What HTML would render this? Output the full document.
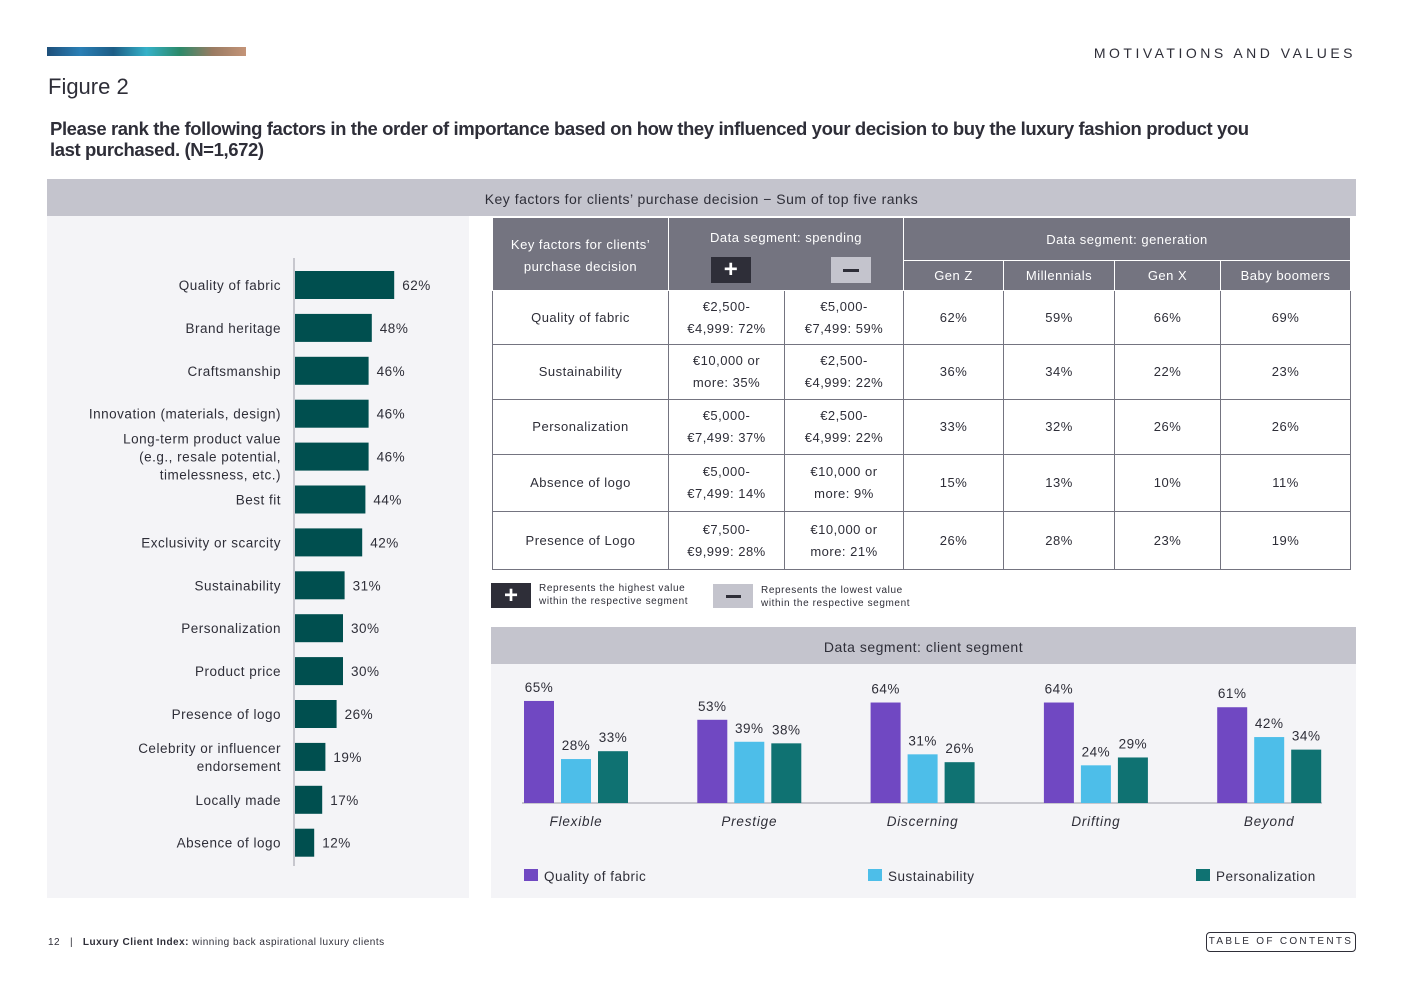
<!DOCTYPE html>
<html><head><meta charset="utf-8">
<style>
*{margin:0;padding:0;box-sizing:border-box}
body{width:1403px;height:992px;background:#fff;position:relative;font-family:"Liberation Sans",sans-serif;color:#2e2e38;overflow:hidden}
.a{position:absolute}
.t{letter-spacing:.5px}
table{border-collapse:collapse;position:absolute;left:492px;top:217px;width:859px;font-size:13px;letter-spacing:.5px;table-layout:fixed}
th{background:#747480;color:#fff;font-weight:normal;border:1px solid #fff;text-align:center}
td{border:1px solid #747480;text-align:center;line-height:22px;color:#2e2e38}
</style></head><body>
<div class="a" style="left:47px;top:47px;width:199px;height:9px;background:linear-gradient(90deg,#1e4f7a,#2a7fb5,#1d5d86,#35b1c8,#2c8a6a,#9a7b62,#c49478)"></div>
<div class="a" style="right:47px;top:45px;font-size:14px;letter-spacing:3.5px">MOTIVATIONS AND VALUES</div>
<div class="a" style="left:48px;top:74px;font-size:22px">Figure 2</div>
<div class="a" style="left:50px;top:118px;width:1220px;font-size:18.5px;font-weight:bold;line-height:21px;letter-spacing:-.4px">Please rank the following factors in the order of importance based on how they influenced your decision to buy the luxury fashion product you last purchased. (N=1,672)</div>
<div class="a" style="left:47px;top:179px;width:1309px;height:37px;background:#c4c4cd;text-align:center;line-height:40px;font-size:14px" ><span class="t">Key factors for clients’ purchase decision − Sum of top five ranks</span></div>
<div class="a" style="left:47px;top:216px;width:422px;height:682px;background:#f4f4f7"></div>
<svg class="a" id="left" style="left:0;top:0" width="480" height="900"></svg>

<table>
<colgroup><col style="width:176px"><col style="width:116px"><col style="width:119px"><col style="width:100px"><col style="width:111px"><col style="width:106px"><col></colgroup>
<tr style="height:43px"><th rowspan="2" style="line-height:22px;padding-top:4px">Key factors for clients’<br>purchase decision</th>
<th colspan="2" rowspan="2" style="vertical-align:top;padding-top:12px;position:relative">Data segment: spending
<div class="a" style="left:42px;top:39px;width:40px;height:26px;background:#2e2e38;font-size:24px;line-height:26px;font-weight:bold">+</div>
<div class="a" style="left:162px;top:39px;width:40px;height:26px;background:#c4c4cd;"><div style="margin:12px auto 0;width:16px;height:3px;background:#2e2e38"></div></div></th>
<th colspan="4">Data segment: generation</th></tr>
<tr style="height:30px"><th>Gen Z</th><th>Millennials</th><th>Gen X</th><th>Baby boomers</th></tr>
<tr style="height:54px"><td>Quality of fabric</td><td>€2,500-<br>€4,999: 72%</td><td>€5,000-<br>€7,499: 59%</td><td>62%</td><td>59%</td><td>66%</td><td>69%</td></tr>
<tr style="height:55px"><td>Sustainability</td><td>€10,000 or<br>more: 35%</td><td>€2,500-<br>€4,999: 22%</td><td>36%</td><td>34%</td><td>22%</td><td>23%</td></tr>
<tr style="height:55px"><td>Personalization</td><td>€5,000-<br>€7,499: 37%</td><td>€2,500-<br>€4,999: 22%</td><td>33%</td><td>32%</td><td>26%</td><td>26%</td></tr>
<tr style="height:57px"><td>Absence of logo</td><td>€5,000-<br>€7,499: 14%</td><td>€10,000 or<br>more: 9%</td><td>15%</td><td>13%</td><td>10%</td><td>11%</td></tr>
<tr style="height:58px"><td>Presence of Logo</td><td>€7,500-<br>€9,999: 28%</td><td>€10,000 or<br>more: 21%</td><td>26%</td><td>28%</td><td>23%</td><td>19%</td></tr>
</table>
<div class="a" style="left:491px;top:583px;width:40px;height:25px;background:#2e2e38;color:#fff;font-size:24px;line-height:25px;text-align:center;font-weight:bold">+</div>
<div class="a" style="left:539px;top:582px;font-size:10px;line-height:13px;letter-spacing:.6px">Represents the highest value<br>within the respective segment</div>
<div class="a" style="left:713px;top:584px;width:40px;height:24px;background:#c4c4cd"><div style="margin:11px auto 0;width:15px;height:3px;background:#2e2e38"></div></div>
<div class="a" style="left:761px;top:584px;font-size:10px;line-height:13px;letter-spacing:.6px">Represents the lowest value<br>within the respective segment</div>

<div class="a" style="left:491px;top:627px;width:865px;height:37px;background:#c4c4cd;text-align:center;line-height:40px;font-size:14px"><span class="t">Data segment: client segment</span></div>
<div class="a" style="left:491px;top:664px;width:865px;height:234px;background:#f4f4f7"></div>
<svg class="a" id="right" style="left:0;top:0" width="1403" height="900"></svg>

<div class="a" style="left:48px;top:937px;font-size:10px;letter-spacing:.5px">12 &nbsp;&nbsp;| &nbsp;&nbsp;<b>Luxury Client Index:</b> winning back aspirational luxury clients</div>
<div class="a" style="left:1206px;top:932px;width:150px;height:20px;border:1px solid #2e2e38;border-radius:4px;font-size:10px;letter-spacing:2.3px;text-align:center;line-height:18px">TABLE OF CONTENTS</div>

<script>
const factors=["Quality of fabric","Brand heritage","Craftsmanship","Innovation (materials, design)","Long-term product value|(e.g., resale potential,|timelessness, etc.)","Best fit","Exclusivity or scarcity","Sustainability","Personalization","Product price","Presence of logo","Celebrity or influencer|endorsement","Locally made","Absence of logo"];
const factorValues=[62,48,46,46,46,44,42,31,30,30,26,19,17,12];
const segments=["Flexible","Prestige","Discerning","Drifting","Beyond"];
const qualityValues=[65,53,64,64,61];
const sustainValues=[28,39,31,24,42];
const personalValues=[33,38,26,29,34];
const seriesNames=["Quality of fabric","Sustainability","Personalization"];
const NS="http://www.w3.org/2000/svg";
function mk(svg,tag,at,txt){const e=document.createElementNS(NS,tag);for(const k in at)e.setAttribute(k,at[k]);if(txt!==undefined)e.textContent=txt;svg.appendChild(e);return e;}
const L=document.getElementById('left');
const x0=294,xs=v=>v*1.6,yc=i=>285+i*42.9;
const ax=mk(L,'line',{x1:x0,x2:x0,y1:258,y2:866,stroke:'#9a9aa4','stroke-width':1});


factors.forEach((f,i)=>{
  const v=factorValues[i],y=yc(i);
  const r=mk(L,'rect',{x:x0+1,y:y-14,width:xs(v),height:28,fill:'#004f4f'});
  
  
  const t=mk(L,'text',{x:x0+xs(v)+9,y:y+5,'font-size':13.5,fill:'#2e2e38','letter-spacing':'.5'},v+'%');
  
  
  const lines=f.split('|');const st=y+5-(lines.length-1)*9;
  lines.forEach((ln,j)=>{const lt=mk(L,'text',{x:281,y:(lines.length==3?y-13:st)+j*18,'text-anchor':'end','font-size':13.5,fill:'#2e2e38','letter-spacing':'.5'},ln);
  
  });
});
const R=document.getElementById('right');
const base=803,ys=v=>v*1.57,gx=i=>524+i*173.3;
const cols=['#7048c2','#4dbee9','#0f7272'];
const series=[qualityValues,sustainValues,personalValues];
const bl=mk(R,'line',{x1:522,x2:1322,y1:base,y2:base,stroke:'#9a9aa4'});


segments.forEach((s,i)=>{
  series.forEach((arr,k)=>{
    const x=gx(i)+k*37,h=ys(arr[i]);
    const r=mk(R,'rect',{x:x,y:base-h,width:30,height:h,fill:cols[k]});
    
    
    const t=mk(R,'text',{x:x+15,y:base-h-9,'text-anchor':'middle','font-size':13.5,fill:'#2e2e38','letter-spacing':'.5'},arr[i]+'%');
    
    
  });
  const t=mk(R,'text',{x:gx(i)+52,y:826,'text-anchor':'middle','font-size':13.5,'font-style':'italic',fill:'#2e2e38','letter-spacing':'.8'},s);
  
  
});
const lx=[524,868,1196];
seriesNames.forEach((n,k)=>{
  const r=mk(R,'rect',{x:lx[k],y:869,width:14,height:12,fill:cols[k]});
  
  
  const t=mk(R,'text',{x:lx[k]+20,y:881,'font-size':13.5,fill:'#2e2e38','letter-spacing':'.5'},n);
  
  
});
</script>
</body></html>
